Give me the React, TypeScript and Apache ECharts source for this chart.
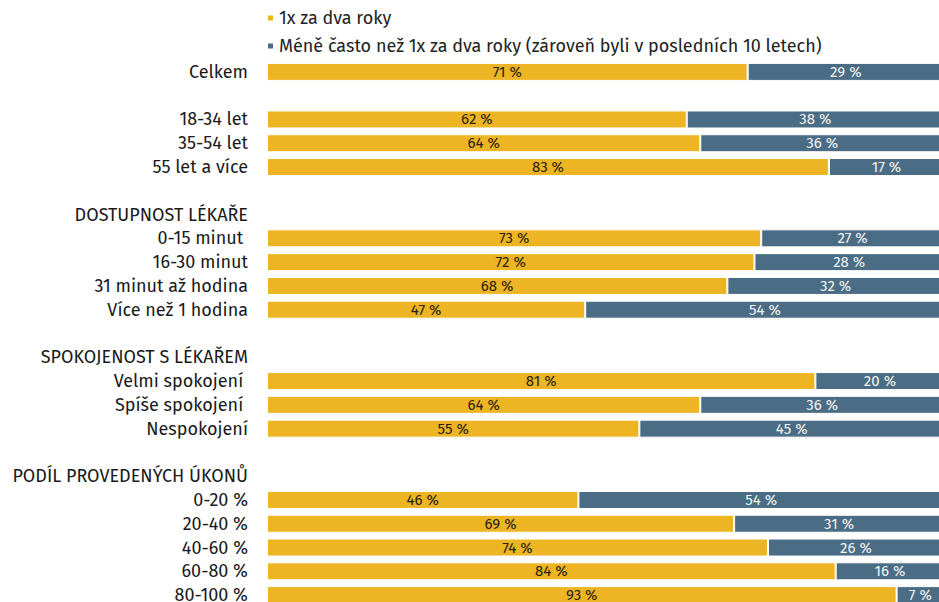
import React, { useEffect, useRef } from "react";
import * as echarts from "echarts";

const categories = [
  "Celkem",
  "",
  "18-34 let",
  "35-54 let",
  "55 let a více",
  " ",
  "DOSTUPNOST LÉKAŘE",
  "0-15 minut ",
  "16-30 minut",
  "31 minut až hodina",
  "Více než 1 hodina",
  "  ",
  "SPOKOJENOST S LÉKAŘEM",
  "Velmi spokojení ",
  "Spíše spokojení ",
  "Nespokojení",
  "   ",
  "PODÍL PROVEDENÝCH ÚKONŮ",
  "0-20 %",
  "20-40 %",
  "40-60 %",
  "60-80 %",
  "80-100 %",
];

const seriesNames = [
  "1x za dva roky",
  "Méně často než 1x za dva roky (zároveň byli v posledních 10 letech)",
];

const everyTwoYears = [71, null, 62, 64, 83, null, null, 73, 72, 68, 47, null, null, 81, 64, 55, null, null, 46, 69, 74, 84, 93];
const lessOften = [29, null, 38, 36, 17, null, null, 27, 28, 32, 54, null, null, 20, 36, 45, null, null, 54, 31, 26, 16, 7];

const FONT = "'Fira Sans', 'Noto Sans', 'Open Sans', sans-serif";

export default function App() {
  const ref = useRef<HTMLDivElement>(null);
  useEffect(() => {
    if (!ref.current) return;
    const chart = echarts.init(ref.current, null, { renderer: "svg" });
    chart.setOption({
      animation: false,
      backgroundColor: "#ffffff",
      legend: {
        orient: "vertical",
        left: 261,
        top: 4,
        itemWidth: 7,
        itemHeight: 7,
        itemGap: 10,
        icon: "rect",
        textStyle: { fontFamily: FONT, fontSize: 18, color: "#222" },
        data: seriesNames,
      },
      grid: {
        left: 267,
        top: 60,
        width: 677,
        height: 547,
        containLabel: false,
        outerBoundsMode: "none",
      },
      xAxis: {
        type: "value",
        min: 0,
        max: 100,
        show: false,
      },
      yAxis: {
        type: "category",
        inverse: true,
        data: categories,
        axisLine: { show: false },
        axisTick: { show: false },
        axisLabel: {
          margin: 19,
          fontFamily: FONT,
          fontSize: 18,
          color: "#1a1a1a",
        },
      },
      series: [
        {
          name: seriesNames[0],
          type: "bar",
          stack: "total",
          barWidth: 18,
          data: everyTwoYears,
          itemStyle: { color: "#EDB523", borderColor: "#ffffff", borderWidth: 1 },
          label: {
            show: true,
            position: "inside",
            formatter: "{c} %",
            fontFamily: FONT,
            fontSize: 15,
            color: "#2a2212",
          },
        },
        {
          name: seriesNames[1],
          type: "bar",
          stack: "total",
          barWidth: 18,
          data: lessOften,
          itemStyle: { color: "#4A6C84", borderColor: "#ffffff", borderWidth: 1 },
          label: {
            show: true,
            position: "inside",
            formatter: "{c} %",
            fontFamily: FONT,
            fontSize: 15,
            color: "#f2f2f2",
          },
        },
      ],
    });
    return () => chart.dispose();
  }, []);
  return <div ref={ref} style={{ width: 939, height: 602, position: "absolute", left: 0, top: 0 }} />;
}
